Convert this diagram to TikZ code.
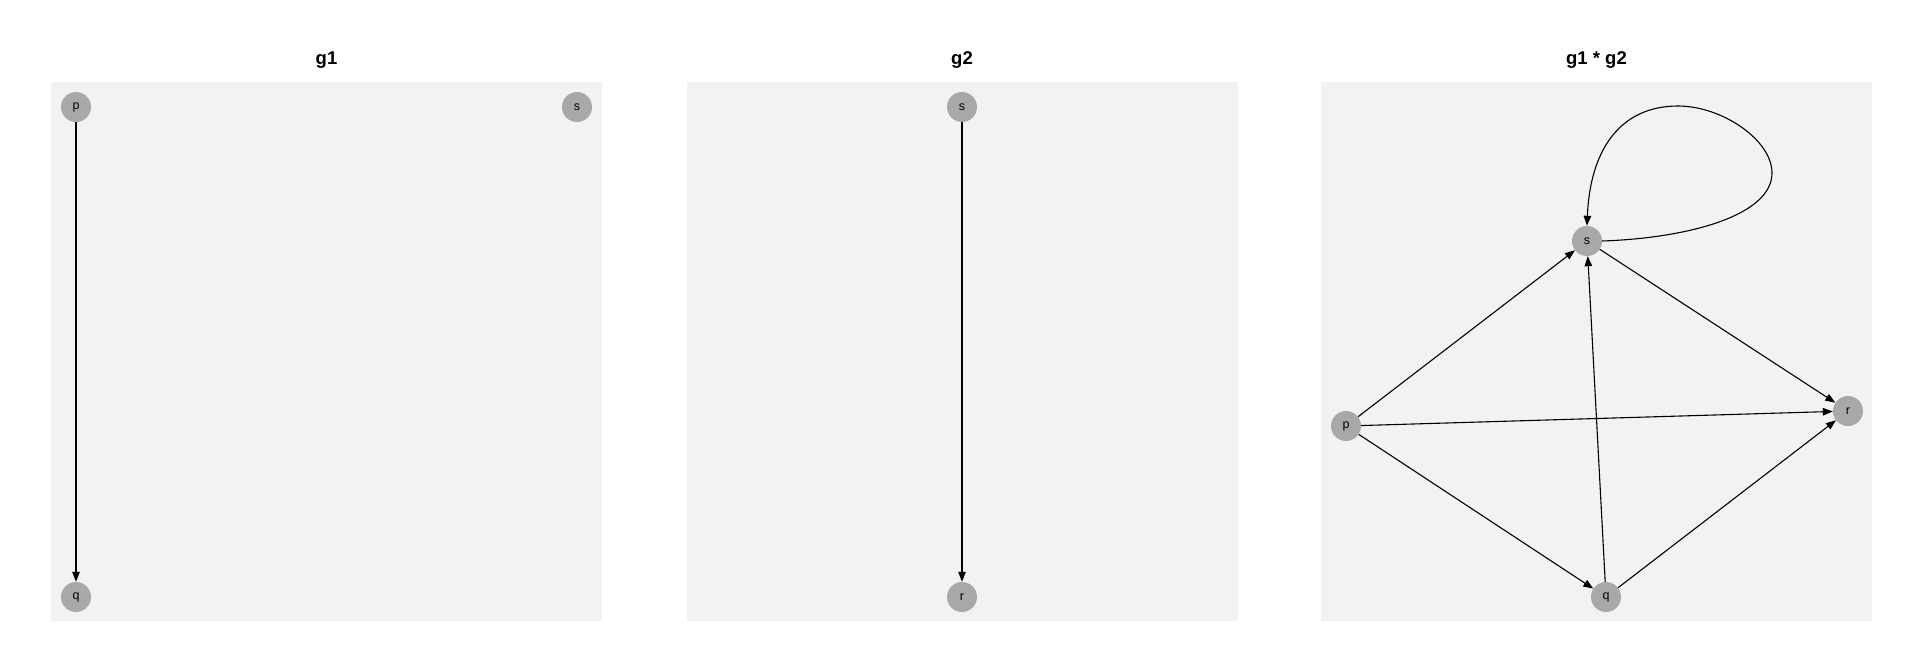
\documentclass[tikz,border=0pt]{standalone}
\usepackage{fontspec}
\setmainfont{Liberation Sans}
\usetikzlibrary{arrows.meta}
\definecolor{panelbg}{RGB}{242,242,242}
\definecolor{vertexgray}{RGB}{168,168,168}
\newcommand\panel[3]{\fill[panel] (#1,82) rectangle ++(551,539); \node[ptitle] (#2) at (#1+275.5,64) {#3};}
\newcommand\vertex[3]{\node[vertex] (#1) at (#2) {#3};}
\newcommand\link[2]{\draw[link] (#1) -- (#2);}

\begin{document}
\begin{tikzpicture}[x=1pt,y=-1pt]
\tikzstyle{panel}=[fill=panelbg]
\tikzstyle{ptitle}=[anchor=base,inner sep=0pt,font=\fontsize{18.5}{20}\selectfont\bfseries]
\tikzstyle{vertex}=[circle,fill=vertexgray,inner sep=0pt,minimum size=30pt,font=\fontsize{12.5}{14}\selectfont]
\tikzstyle{link}=[line width=1.1pt,-{Triangle[length=10pt,width=7.5pt]}]
\useasboundingbox (0,0) rectangle (1920,672);
\panel{51}{t1}{g1}
\panel{686.5}{t2}{g2}
\panel{1321}{t3}{g1 * g2}
% g1
\vertex{g1p}{76,107}{p}
\vertex{g1s}{577,107}{s}
\vertex{g1q}{76,597}{q}
% g2
\vertex{g2s}{962,107}{s}
\vertex{g2r}{962,597}{r}
% g1 * g2
\vertex{g3s}{1587,241}{s}
\vertex{g3p}{1346,426}{p}
\vertex{g3r}{1848,411}{r}
\vertex{g3q}{1606,597}{q}
\link{g1p}{g1q}
\link{g2s}{g2r}
\link{g3p}{g3s}
\link{g3p}{g3r}
\link{g3p}{g3q}
\link{g3q}{g3s}
\link{g3q}{g3r}
\link{g3s}{g3r}
\draw[link] (g3s.east) .. controls (1690,238) and (1772,215) .. (1772,173)
  .. controls (1772,140) and (1722,106) .. (1678,106)
  .. controls (1620,106) and (1590,150) .. (g3s.north);
\end{tikzpicture}
\end{document}
